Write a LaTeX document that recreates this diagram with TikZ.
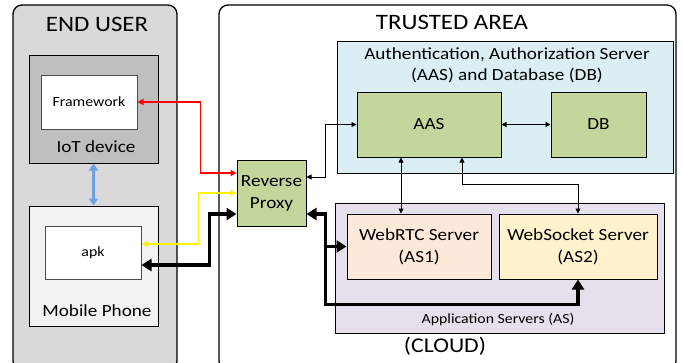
\documentclass[tikz,border=0pt]{standalone}
\usepackage{fontspec}
\setmainfont{Carlito}[FakeStretch=1.13]
\usepackage{tikz}
\usetikzlibrary{arrows.meta}
\usetikzlibrary{positioning,calc}
\definecolor{userbg}{HTML}{D9D9D9}
\definecolor{iotbg}{HTML}{BFBFBF}
\definecolor{phonebg}{HTML}{F2F2F2}
\definecolor{aasbg}{HTML}{DAEEF3}
\definecolor{boxgreen}{HTML}{C3D69B}
\definecolor{appbg}{HTML}{E6E0EC}
\definecolor{rtcbg}{HTML}{FDE9D9}
\definecolor{wsbg}{HTML}{FFF2CC}
\definecolor{linkblue}{HTML}{6CA2E4}
\tikzset{
    area/.style={
        draw,
        rounded corners=9pt,
        line width=1.3pt,
        inner sep=0pt
    },
    box/.style={
        draw,
        rectangle,
        line width=1pt,
        inner sep=0pt
    },
    thinlink/.style={
        draw,
        {Triangle[length=5pt, width=5pt]}-{Triangle[length=5pt, width=5pt]},
        line width=0.9pt
    },
    colorlink/.style={
        draw,
        {Triangle[length=6pt, width=6pt]}-{Triangle[length=6pt, width=6pt]},
        line width=1.4pt
    },
    thicklink/.style={
        draw,
        line width=3.5pt,
        {Triangle[length=10pt, width=12pt]}-{Triangle[length=10pt, width=12pt]}
    }
}

\begin{document}
\begin{tikzpicture}[x=1pt, y=-1pt]
  \useasboundingbox (0,0) rectangle (683,362);

  % End user side
  \node[area, fill=userbg, minimum width=164pt, minimum height=365pt] (enduser) at (95,187.5) {};
  \node[font=\fontsize{22}{24}\selectfont] (enduserlbl) at (97,24) {END USER};
  \node[box, fill=iotbg, minimum width=129pt, minimum height=108pt] (iot) at (93.5,109) {};
  \node[box, draw=black!70, fill=white, minimum width=96pt, minimum height=54pt, font=\fontsize{14}{16}\selectfont] (framework) at (89,102) {Framework};
  \node[font=\fontsize{17}{19}\selectfont] (iotlbl) at (96,147) {IoT device};
  \node[box, fill=phonebg, minimum width=129pt, minimum height=120pt] (phone) at (93.5,266) {};
  \node[box, draw=black!70, fill=white, minimum width=96pt, minimum height=53pt, font=\fontsize{14}{16}\selectfont] (apk) at (93,252.5) {apk};
  \node[font=\fontsize{17}{19}\selectfont] (phonelbl) at (97,311) {Mobile Phone};

  % Trusted area (cloud)
  \node[area, fill=white, minimum width=457pt, minimum height=365pt] (trusted) at (447.5,187.5) {};
  \node[font=\fontsize{22}{24}\selectfont] (trustedlbl) at (452,22) {TRUSTED AREA};
  \node[font=\fontsize{21}{23}\selectfont] (cloudlbl) at (445,346) {(CLOUD)};

  \node[box, fill=aasbg, minimum width=336pt, minimum height=132pt] (aasdb) at (505,107) {};
  \node[align=center, font=\fontsize{17}{21}\selectfont] (aasdblbl) at (507,65) {Authentication, Authorization Server\\(AAS) and Database (DB)};
  \node[box, fill=boxgreen, minimum width=144pt, minimum height=65pt, font=\fontsize{17}{19}\selectfont] (aas) at (429,124.5) {AAS};
  \node[box, fill=boxgreen, minimum width=95pt, minimum height=65pt, font=\fontsize{17}{19}\selectfont] (db) at (598.5,124.5) {DB};

  \node[box, fill=appbg, minimum width=329pt, minimum height=130pt] (appsrv) at (499.5,268) {};
  \node[font=\fontsize{14}{16}\selectfont] (appsrvlbl) at (498,320) {Application Servers (AS)};
  \node[box, fill=rtcbg, minimum width=144pt, minimum height=65pt, align=center, font=\fontsize{17}{22}\selectfont] (webrtc) at (419,246.5) {WebRTC Server\\(AS1)};
  \node[box, fill=wsbg, minimum width=158pt, minimum height=65pt, align=center, font=\fontsize{17}{22}\selectfont] (websocket) at (578,246.5) {WebSocket Server\\(AS2)};

  \node[box, fill=boxgreen, minimum width=69pt, minimum height=66pt, align=center, font=\fontsize{17}{22}\selectfont] (proxy) at (271.5,193) {Reverse\\Proxy};

  % Links from the proxy to the end user
  \draw[colorlink, red] ([yshift=20pt]proxy.west) -- ++(-36,0) |- (framework.east);
  \draw[colorlink, yellow] (proxy.west) -- ++(-38,0) |- ([yshift=8.5pt]apk.east);
  \draw[thicklink] ([yshift=-21pt]proxy.west) -- ++(-27,0) |- ([yshift=-12.5pt]apk.east);
  \draw[line width=2.4pt, linkblue, {Triangle[length=7pt, width=9pt]}-{Triangle[length=7pt, width=9pt]}] (iot.south) -- (phone.north);

  % Links inside the trusted area
  \draw[thinlink] ([yshift=16pt]proxy.east) -- ++(19,0) |- (aas.west);
  \draw[thinlink] (aas.east) -- (db.west);
  \draw[thinlink] ([xshift=-28pt]aas.south) -- ([xshift=-28pt]aas.south |- webrtc.north);
  \draw[thinlink] ([xshift=33pt]aas.south) -- ++(0,27) -| (websocket.north);
  \draw[thicklink] ([yshift=-21pt]proxy.east) -- ++(19,0) |- ([yshift=-25pt]websocket.south) -- (websocket.south);
  \coordinate (bus) at ([xshift=19pt]proxy.east |- webrtc.west);
  \draw[line width=3.5pt, -{Triangle[length=10pt, width=12pt]}] (bus) -- (webrtc.west);
\end{tikzpicture}
\end{document}
